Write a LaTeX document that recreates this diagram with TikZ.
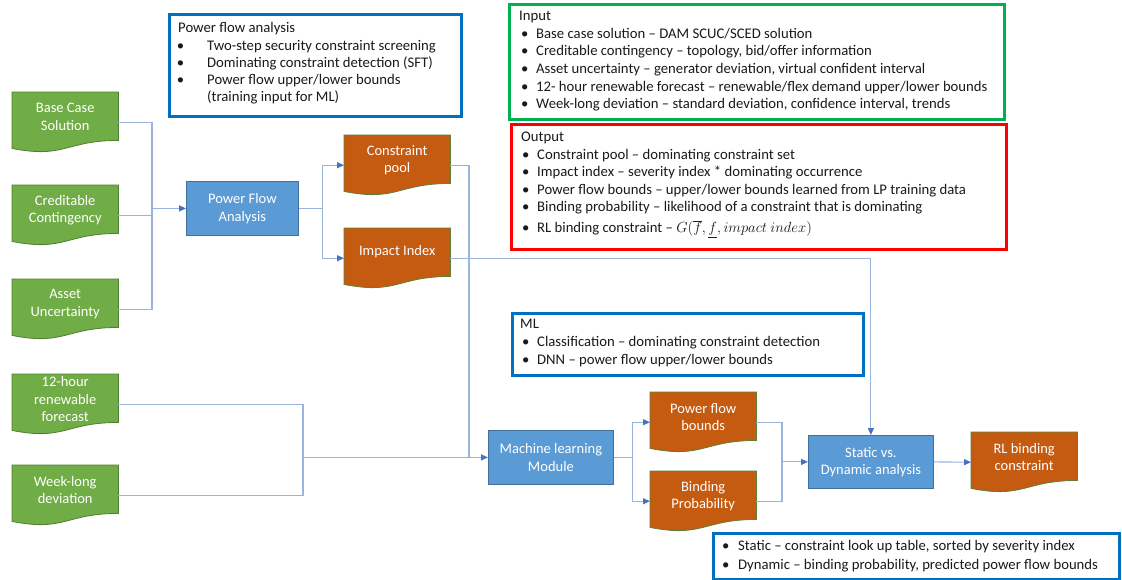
\RequirePackage{fix-cm}
\documentclass[tikz,border=0pt]{standalone}
\usepackage{fontspec}
\setmainfont{Carlito}
\usetikzlibrary{arrows.meta,calc}

\definecolor{docgreen}{HTML}{70AD47}
\definecolor{docgreenline}{HTML}{507E32}
\definecolor{docorange}{HTML}{C55A11}
\definecolor{docorangeline}{HTML}{5F7F3A}
\definecolor{procfill}{HTML}{5B9BD5}
\definecolor{procline}{HTML}{41719C}
\definecolor{wirecol}{HTML}{9BB4DC}
\definecolor{tipcol}{HTML}{4472C4}
\definecolor{frameblue}{HTML}{0070C0}
\definecolor{framegreen}{HTML}{00B050}
\definecolor{framered}{HTML}{FF0000}
\definecolor{bodytext}{HTML}{1A1A1A}

% flowchart "document" outline with the wavy lower edge
\newcommand\docshape[2]{\path[#2] (#1.north west) -- (#1.north east)
  -- ($(#1.north east)!0.802!(#1.south east)$)
  .. controls ($(#1.north)!0.802!(#1.south)$) and ($(#1.north)!1.107!(#1.south)$)
  .. ($(#1.north west)!0.934!(#1.south west)$) -- cycle;}
% bullet item: bullet offset, text offset, text
\newcommand\itm[3]{\makebox[#2][l]{\hspace*{#1}\textbullet}#3}
\newcommand\doctxt{\fontsize{14.5}{17.5}\selectfont}
\newcommand\boxfont[1]{\fontsize{14.7}{#1}\selectfont}

\tikzset{
  doc/.style={minimum width=106, minimum height=60, inner sep=0, anchor=north west},
  greendoc/.style={fill=docgreen, draw=docgreenline, line width=0.8},
  orangedoc/.style={fill=docorange, draw=docorangeline, line width=0.8},
  doclbl/.style={text=white, align=center, font=\doctxt, inner sep=0},
  proc/.style={draw=procline, fill=procfill, line width=0.8, text=white,
    align=center, font=\doctxt, inner sep=0, anchor=north west},
  wire/.style={draw=wirecol, line width=1.1},
  arr/.style={wire, -{Triangle[length=7pt,width=6pt,color=tipcol]}},
  frame/.style={draw=#1, line width=2.6, inner sep=0, anchor=north west},
  boxtxt/.style={align=left, inner sep=0, anchor=north west, text=bodytext},
}

\begin{document}
\begin{tikzpicture}[x=1pt,y=-1pt]
\useasboundingbox[fill=white] (0,0) rectangle (1122,579);

% ---- information frames ----
\node[frame=frameblue, minimum width=292, minimum height=102] (pfabox) at (168,13) {};
\node[boxtxt, font=\boxfont{17.3}] (pfabox-t) at (178,22.3)
  {Power flow analysis\\
   \itm{-1.3pt}{29pt}{Two-step security constraint screening}\\
   \itm{-1.3pt}{29pt}{Dominating constraint detection (SFT)}\\
   \itm{-1.3pt}{29pt}{Power flow upper/lower bounds}\\
   \hspace*{29pt}(training input for ML)};

\node[frame=framegreen, minimum width=495, minimum height=115] (inbox) at (508,3) {};
\node[boxtxt, font=\boxfont{17.7}] (inbox-t) at (519,10.8)
  {Input\\
   \itm{2pt}{17pt}{Base case solution – DAM SCUC/SCED solution}\\
   \itm{2pt}{17pt}{Creditable contingency – topology, bid/offer information}\\
   \itm{2pt}{17pt}{Asset uncertainty – generator deviation, virtual confident interval}\\
   \itm{2pt}{17pt}{12- hour renewable forecast – renewable/flex demand upper/lower bounds}\\
   \itm{2pt}{17pt}{Week-long deviation – standard deviation, confidence interval, trends}};

\node[frame=framered, minimum width=495, minimum height=125] (outbox) at (510,123) {};
\node[boxtxt, font=\boxfont{17.6}] (outbox-t) at (521,131.8)
  {Output\\
   \itm{1pt}{16pt}{Constraint pool – dominating constraint set}\\
   \itm{1pt}{16pt}{Impact index – severity index * dominating occurrence}\\
   \itm{1pt}{16pt}{Power flow bounds – upper/lower bounds learned from LP training data}\\
   \itm{1pt}{16pt}{Binding probability – likelihood of a constraint that is dominating}\\[3pt]
   \itm{1pt}{16pt}{RL binding constraint – $G(\overline{f},\underline{f},impact\ index)$}};

\node[frame=frameblue, minimum width=351, minimum height=62] (mlbox) at (511,312) {};
\node[boxtxt, font=\boxfont{18}] (mlbox-t) at (520,319.3)
  {ML\\
   \itm{2pt}{17pt}{Classification – dominating constraint detection}\\
   \itm{2pt}{17pt}{DNN – power flow upper/lower bounds}};

\node[frame=frameblue, minimum width=406, minimum height=46] (sdbox) at (712,532) {};
\node[boxtxt, font=\boxfont{19}] (sdbox-t) at (722,540.3)
  {\itm{0pt}{16pt}{Static – constraint look up table, sorted by severity index}\\
   \itm{0pt}{16pt}{Dynamic – binding probability, predicted power flow bounds}};

% ---- document shapes (inputs and outputs) ----
\node[doc] (bcs) at (12,92) {};
\node[doc] (cc)  at (12,185) {};
\node[doc] (au)  at (12,279) {};
\node[doc] (fc)  at (12,374) {};
\node[doc] (wl)  at (12,465) {};
\node[doc] (cp)  at (344,135) {};
\node[doc] (imp) at (344,228) {};
\node[doc] (pfb) at (650,392) {};
\node[doc] (bp)  at (650,471) {};
\node[doc] (rl)  at (971,432) {};

\docshape{bcs}{greendoc}
\docshape{cc}{greendoc}
\docshape{au}{greendoc}
\docshape{fc}{greendoc}
\docshape{wl}{greendoc}
\docshape{cp}{orangedoc}
\docshape{imp}{orangedoc}
\docshape{pfb}{orangedoc}
\docshape{bp}{orangedoc}
\docshape{rl}{orangedoc}

\node[doclbl] (bcs-t) at ($(bcs.north)+(0,25)$) {Base Case\\Solution};
\node[doclbl] (cc-t)  at ($(cc.north)+(0,25)$)  {Creditable\\Contingency};
\node[doclbl] (au-t)  at ($(au.north)+(0,25)$)  {Asset\\Uncertainty};
\node[doclbl] (fc-t)  at ($(fc.north)+(0,25.5)$) {12-hour\\renewable\\forecast};
\node[doclbl] (wl-t)  at ($(wl.north)+(0,25)$)  {Week-long\\deviation};
\node[doclbl] (cp-t)  at ($(cp.north)+(0,25)$)  {Constraint\\pool};
\node[doclbl] (imp-t) at ($(imp.north)+(0,24)$) {Impact Index};
\node[doclbl] (pfb-t) at ($(pfb.north)+(0,25)$) {Power flow\\bounds};
\node[doclbl] (bp-t)  at ($(bp.north)+(0,25)$)  {Binding\\Probability};
\node[doclbl] (rl-t)  at ($(rl.north)+(0,25)$)  {RL binding\\constraint};

% ---- process boxes ----
\node[proc, minimum width=112, minimum height=54] (pfa) at (186,181) {Power Flow\\Analysis};
\node[proc, minimum width=125, minimum height=54] (ml)  at (488,430) {Machine learning\\Module};
\node[proc, minimum width=125, minimum height=53] (sd)  at (808,435) {Static vs.\\Dynamic analysis};

% ---- connectors ----
\coordinate (pfbus)   at ($(pfa.west)+(-34,0)$);
\coordinate (pfsplit) at ($(pfa.east)+(24,0)$);
\coordinate (mlbus)   at ($(ml.west)+(-185,0)$);
\coordinate (mljoin)  at ($(ml.west)+(-19,0)$);
\coordinate (mlsplit) at ($(ml.east)+(19,0)$);
\coordinate (sdbus)   at ($(sd.west)+(-26,0)$);

\draw[wire] (bcs.east) -| (pfbus) |- (au.east);
\draw[wire] (cc.east) -- (cc.east -| pfbus);
\draw[arr] (pfbus) -- (pfa.west);

\draw[wire] (pfa.east) -- (pfsplit);
\draw[arr] (pfsplit) |- (cp.west);
\draw[arr] (pfsplit) |- (imp.west);

\draw[wire] (fc.east) -| (mlbus) |- (wl.east);
\draw[wire] (cp.east) -| (mljoin);
\draw[arr] (mlbus) -- (ml.west);
\draw[arr] (imp.east) -| (sd.north);

\draw[wire] (ml.east) -- (mlsplit);
\draw[arr] (mlsplit) |- (pfb.west);
\draw[arr] (mlsplit) |- (bp.west);

\draw[wire] (pfb.east) -| (sdbus) |- (bp.east);
\draw[arr] (sdbus) -- (sd.west);
\draw[arr] (sd.east) -- (rl.west);
\end{tikzpicture}
\end{document}
